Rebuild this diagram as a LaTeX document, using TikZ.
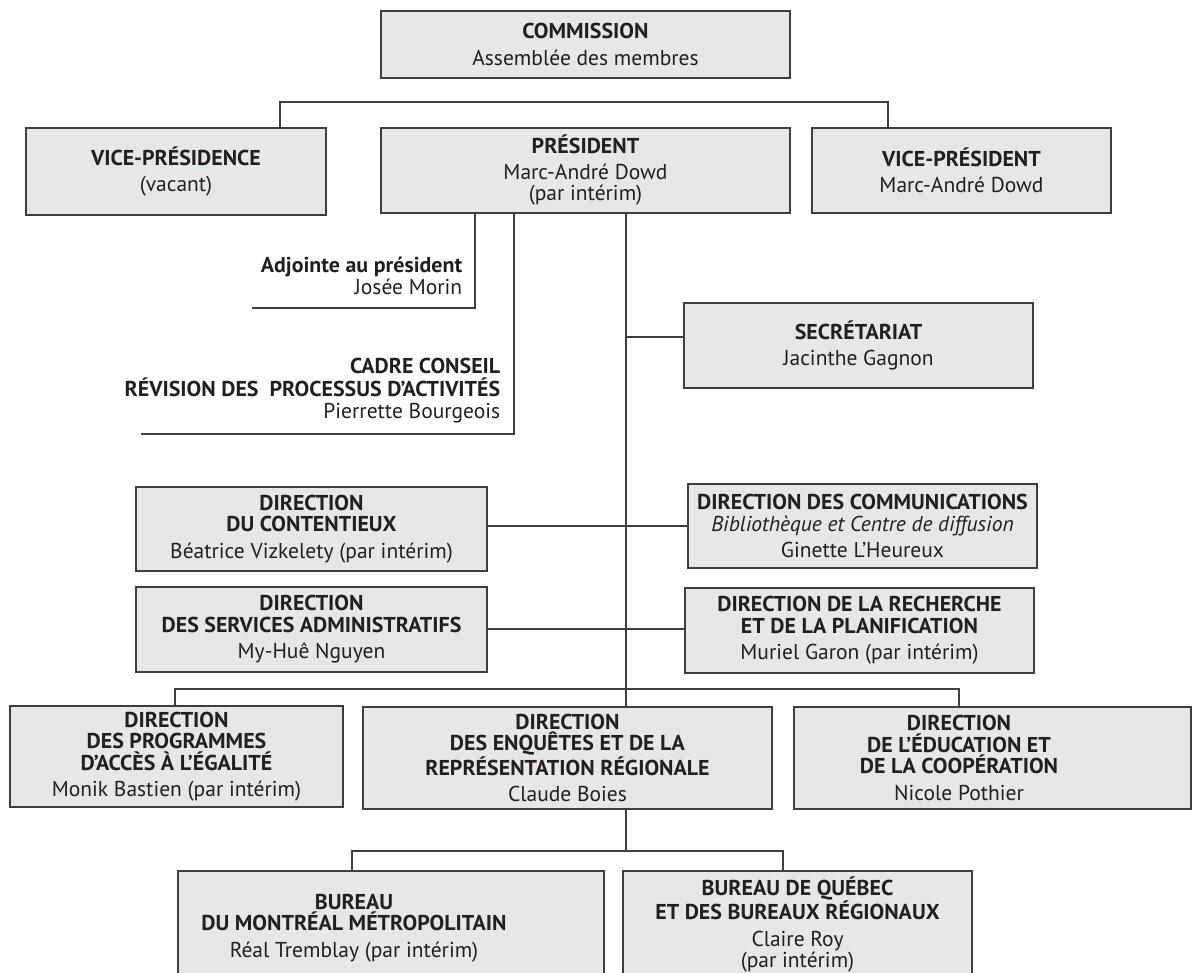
\documentclass[tikz,border=0pt]{standalone}
\usepackage{fontspec}
\setmainfont{PT Sans}[BoldFeatures={FakeStretch=1.02}]
\usepackage{tikz}
\definecolor{boxgray}{RGB}{230,231,232}
\definecolor{linegray}{RGB}{62,62,62}
\definecolor{inkblack}{RGB}{35,31,32}

\begin{document}
\begin{tikzpicture}[x=1pt,y=-1pt,line width=1.5pt]
  \tikzstyle{unit}=[rectangle,draw=linegray,fill=boxgray,text=inkblack,
              align=center,inner sep=0pt,font=\fontsize{21.5}{21.5}\selectfont]
  \tikzstyle{caption}=[align=center,inner sep=0pt,text=inkblack,
              font=\fontsize{21.5}{21.5}\selectfont]
  \tikzstyle{aside}=[anchor=south east,align=right,inner sep=0pt,
              text=inkblack,font=\fontsize{21.5}{22.5}\selectfont]
  \tikzstyle{link}=[draw=linegray]
  \useasboundingbox (0,0) rectangle (1192,973);
  \clip (0,0) rectangle (1192,973);

    \node [unit,minimum width=409pt,minimum height=67pt] (commission) at (585.5,44.5)
      {\textbf{COMMISSION}\\[5pt]Assemblée des membres};
    \node [unit,minimum width=300pt,minimum height=87pt] (vpce) at (176,171.5)
      {\textbf{VICE-PRÉSIDENCE}\\[5pt](vacant)};
    \node [unit,minimum width=409pt,minimum height=85pt] (pres) at (585.5,170.5)
      {\textbf{PRÉSIDENT}\\[4pt]Marc-André Dowd\\(par intérim)};
    \node [unit,minimum width=299pt,minimum height=85pt] (vpt) at (961.5,170.5)
      {\textbf{VICE-PRÉSIDENT}\\[5pt]Marc-André Dowd};

    \node [aside] (adj) at (463,296)
      {\textbf{Adjointe au président}\\Josée Morin};
    \node [aside] (cadre) at (501,424)
      {\textbf{CADRE CONSEIL}\\\textbf{RÉVISION DES\ \ PROCESSUS D’ACTIVITÉS}\\Pierrette Bourgeois};

    \node [unit,minimum width=349pt,minimum height=85pt] (secr) at (858.5,345.5)
      {\textbf{SECRÉTARIAT}\\[5pt]Jacinthe Gagnon};
    \node [unit,minimum width=351pt,minimum height=84pt] (cont) at (311.5,529)
      {\textbf{DIRECTION}\\\textbf{DU CONTENTIEUX}\\[5pt]Béatrice Vizkelety (par intérim)};
    \node [unit,minimum width=349pt,minimum height=84pt] (comm) at (862.5,526)
      {\textbf{DIRECTION DES COMMUNICATIONS}\\\textit{Bibliothèque et Centre de diffusion}\\[5pt]Ginette L’Heureux};
    \node [unit,minimum width=351pt,minimum height=85pt] (admin) at (311.5,629.5)
      {\textbf{DIRECTION}\\\textbf{DES SERVICES ADMINISTRATIFS}\\[5pt]My-Huê Nguyen};
    \node [unit,minimum width=349pt,minimum height=85pt] (rech) at (859.5,630.5)
      {\textbf{DIRECTION DE LA RECHERCHE}\\\textbf{ET DE LA PLANIFICATION}\\[5pt]Muriel Garon (par intérim)};

    \node [unit,minimum width=333pt,minimum height=101pt] (prog) at (176.5,756.5)
      {\textbf{DIRECTION}\\\textbf{DES PROGRAMMES}\\\textbf{D’ACCÈS À L’ÉGALITÉ}\\[5pt]Monik Bastien (par intérim)};
    \node [unit,minimum width=409pt,minimum height=102pt] (enq) at (567.5,758)
      {\textbf{DIRECTION}\\\textbf{DES ENQUÊTES ET DE LA}\\\textbf{REPRÉSENTATION RÉGIONALE}\\[5pt]Claude Boies};
    \node [unit,minimum width=397pt,minimum height=102pt] (educ) at (992.5,758) {};
    \node [caption] (educ-text) at (959,758)
      {\textbf{DIRECTION}\\\textbf{DE L’ÉDUCATION ET}\\\textbf{DE LA COOPÉRATION}\\[5pt]Nicole Pothier};

    \node [unit,minimum width=426pt,minimum height=114pt] (mtl) at (391,928) {};
    \node [caption] (mtl-text) at (354,928)
      {\textbf{BUREAU}\\\textbf{DU MONTRÉAL MÉTROPOLITAIN}\\[5pt]Réal Tremblay (par intérim)};
    \node [unit,minimum width=349pt,minimum height=114pt] (queb) at (797.5,928) {};
    \node [caption] (queb-text) at (797.5,924.5)
      {\textbf{BUREAU DE QUÉBEC}\\\textbf{ET DES BUREAUX RÉGIONAUX}\\[5pt]Claire Roy\\(par intérim)};

    \coordinate (vpl) at (280,102);
    \coordinate (vpr) at (888,102);
    \draw [link] (vpl |- vpce.north) -- (vpl) -- (vpr) -- (vpr |- vpt.north);

    \coordinate (adjx) at (475,308);
    \coordinate (adjend) at (252,308);
    \draw [link] (pres.south -| adjx) -- (adjx) -- (adjend);
    \coordinate (cadx) at (514,434);
    \coordinate (cadend) at (141,434);
    \draw [link] (pres.south -| cadx) -- (cadx) -- (cadend);

    \coordinate (trunk) at (626,0);
    \draw [link] (pres.south -| trunk) -- (enq.north -| trunk);
    \coordinate (secj) at (626,337);
    \draw [link] (secj) -- (secj -| secr.west);
    \draw [link] (comm.west) -- (comm.west -| cont.east);
    \coordinate (adminj) at (626,629);
    \draw [link] (adminj -| admin.east) -- (adminj -| rech.west);

    \coordinate (lowl) at (175,689);
    \coordinate (lowr) at (959,689);
    \draw [link] (lowl |- prog.north) -- (lowl) -- (lowr) -- (lowr |- educ.north);

    \coordinate (burl) at (352,851);
    \coordinate (burr) at (783,851);
    \draw [link] (enq.south -| trunk) -- (trunk |- burl);
    \draw [link] (burl |- mtl.north) -- (burl) -- (burr) -- (burr |- queb.north);
\end{tikzpicture}
\end{document}
